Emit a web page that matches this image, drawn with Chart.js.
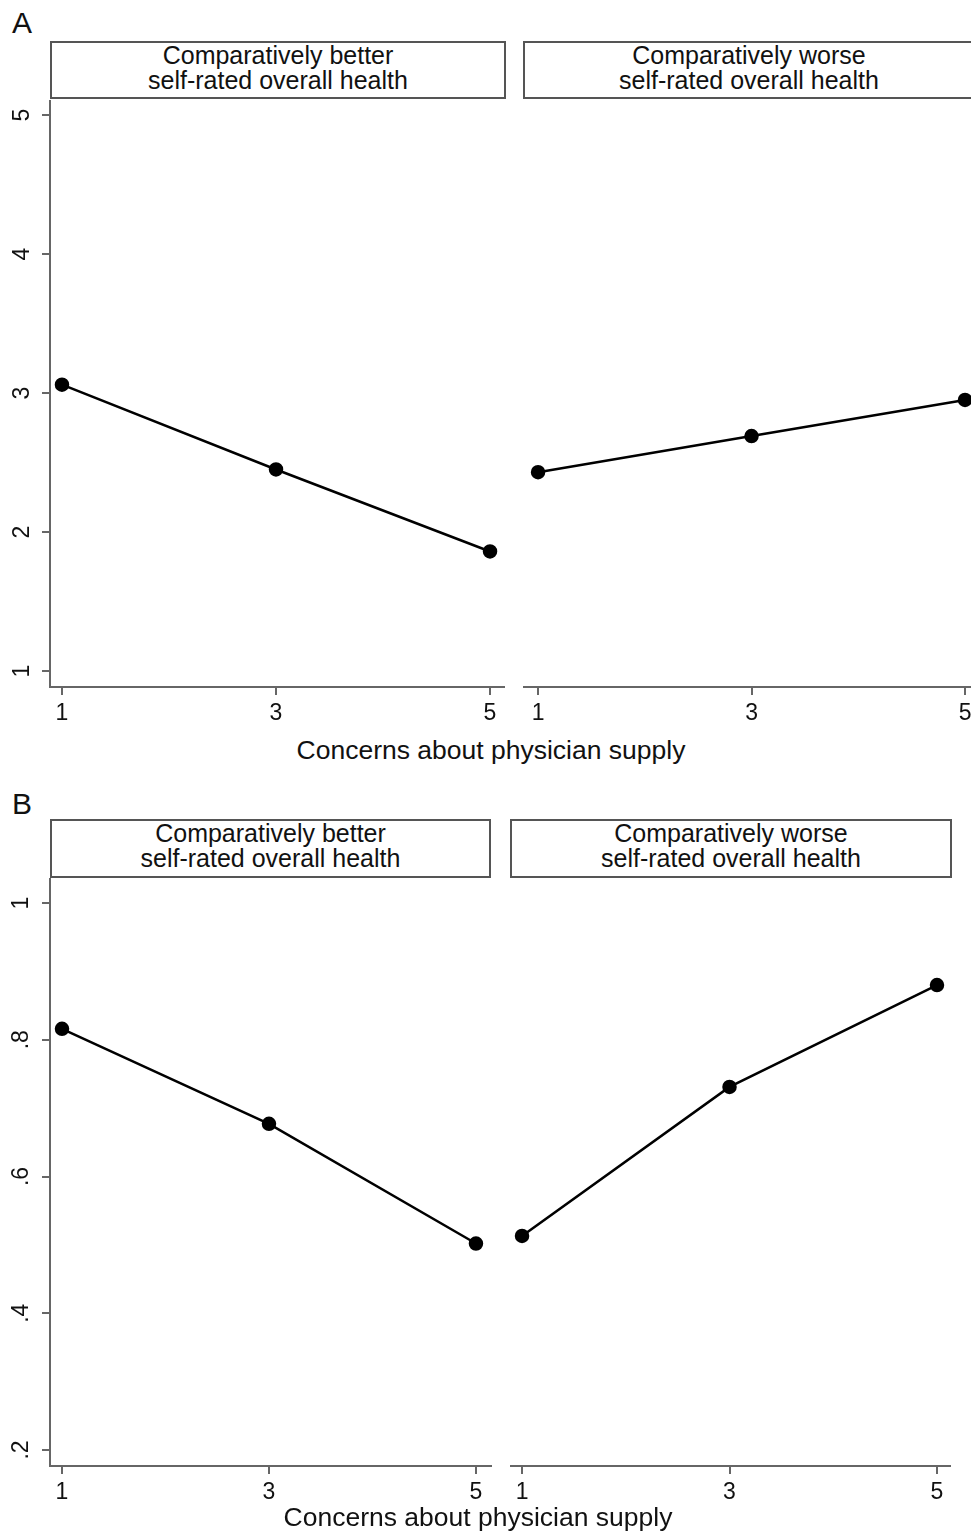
<!DOCTYPE html>
<html>
<head>
<meta charset="utf-8">
<script src="https://cdn.jsdelivr.net/npm/chart.js@4.4.1/dist/chart.umd.min.js"></script>
<style>
body { margin:0; background:#fff; width:971px; height:1535px; overflow:hidden; position:relative; font-family:'Liberation Sans', Arial, sans-serif; color:#111; }
.strip { position:absolute; box-sizing:border-box; border:2px solid #555; text-align:center; font-size:25px; line-height:25px; }
.letter { position:absolute; font-size:30px; line-height:30px; }
.xtitle { position:absolute; font-size:26.5px; line-height:26px; transform:translateX(-50%); white-space:nowrap; }
canvas { position:absolute; }
</style>
</head>
<body>

<div class="letter" style="left:12px;top:8px">A</div>
<div class="strip" style="left:50px;top:41px;width:456px;height:58px">Comparatively better<br>self-rated overall health</div>
<div class="strip" style="left:523px;top:41px;width:452px;height:58px">Comparatively worse<br>self-rated overall health</div>
<canvas id="aLeft" width="505" height="632" style="left:0;top:100px"></canvas>
<canvas id="aRight" width="448" height="632" style="left:523px;top:100px"></canvas>
<div class="xtitle" style="left:491px;top:737px">Concerns about physician supply</div>

<div class="letter" style="left:12px;top:789px">B</div>
<div class="strip" style="left:50px;top:819px;width:441px;height:59px">Comparatively better<br>self-rated overall health</div>
<div class="strip" style="left:510px;top:819px;width:442px;height:59px">Comparatively worse<br>self-rated overall health</div>
<canvas id="bLeft" width="492" height="633" style="left:0;top:878px"></canvas>
<canvas id="bRight" width="441" height="633" style="left:510px;top:878px"></canvas>
<div class="xtitle" style="left:478px;top:1504px">Concerns about physician supply</div>

<script>
// concern level (x)
const concern = [1, 3, 5]
// panel A
const aBetter = [3.06, 2.45, 1.86]
const aWorse = [2.43, 2.69, 2.95]
// panel B
const bBetter = [0.816, 0.677, 0.502]
const bWorse = [0.513, 0.731, 0.880]

const xTicks = [1, 3, 5]
const yTicksA = [1, 2, 3, 4, 5]
const yTicksB = [0.2, 0.4, 0.6, 0.8, 1]

Chart.defaults.font.family = "'Liberation Sans', Arial, sans-serif"
Chart.defaults.color = '#111'

const axisGrey = '#666'

function pts(ys) {
  return concern.map(function(x, i) { return { x: x, y: ys[i] } })
}

function fmt(v) {
  if (v === 1) return '1'
  return String(v).replace('0.', '.')
}

function makeChart(id, values, xr, yr, yTicks, showY, yPad) {
  return new Chart(document.getElementById(id), {
    type: 'line',
    data: {
      datasets: [{
        data: pts(values),
        borderColor: '#000',
        backgroundColor: '#000',
        borderWidth: 2.5,
        pointRadius: 6,
        pointHoverRadius: 6,
        pointBackgroundColor: '#000',
        pointBorderColor: '#000',
        tension: 0,
        clip: false
      }]
    },
    options: {
      responsive: false,
      animation: false,
      devicePixelRatio: 1,
      layout: { padding: 0, autoPadding: false },
      plugins: { legend: { display: false }, tooltip: { enabled: false } },
      scales: {
        x: {
          type: 'linear',
          min: xr[0], max: xr[1],
          afterBuildTicks: function(s) { s.ticks = xTicks.map(function(v) { return { value: v } }) },
          afterFit: function(s) { s.height = 45; s.paddingLeft = 0; s.paddingRight = 0 },
          border: { display: true, color: axisGrey, width: 2 },
          grid: { drawOnChartArea: false, drawTicks: true, tickLength: 8, color: axisGrey, tickColor: axisGrey, lineWidth: 2 },
          ticks: { font: { size: 23 }, padding: 5, maxRotation: 0, autoSkip: false, callback: function(v) { return String(v) } }
        },
        y: {
          type: 'linear',
          display: showY,
          min: yr[0], max: yr[1],
          afterBuildTicks: function(s) { s.ticks = yTicks.map(function(v) { return { value: v } }) },
          afterFit: function(s) { s.width = showY ? 50 : 0; s.paddingTop = 0; s.paddingBottom = 0 },
          border: { display: true, color: axisGrey, width: 2 },
          grid: { drawOnChartArea: false, drawTicks: true, tickLength: 8, color: axisGrey, tickColor: axisGrey, lineWidth: 2 },
          ticks: { font: { size: 23 }, padding: yPad, minRotation: 90, maxRotation: 90, crossAlign: 'center', autoSkip: false, callback: fmt }
        }
      }
    }
  })
}

makeChart('aLeft', aBetter, [0.888, 5.14], [0.885, 5.108], yTicksA, true, 13)
makeChart('aRight', aWorse, [0.859, 5.056], [0.885, 5.108], yTicksA, false, 13)
makeChart('bLeft', bBetter, [0.884, 5.155], [0.1766, 1.0366], yTicksB, true, 11)
makeChart('bRight', bWorse, [0.884, 5.135], [0.1766, 1.0366], yTicksB, false, 11)
</script>
</body>
</html>
